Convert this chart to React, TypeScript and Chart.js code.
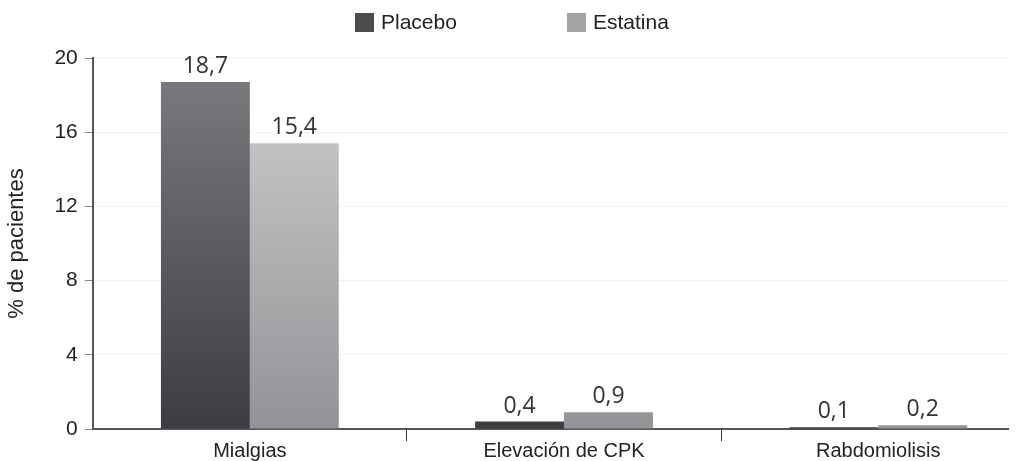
import React, { useEffect, useRef } from "react";
import { Chart, registerables } from "chart.js";

Chart.register(...registerables);

const categories = ["Mialgias", "Elevación de CPK", "Rabdomiolisis"];
const seriesNames = ["Placebo", "Estatina"];
const placebo = [18.7, 0.4, 0.1];
const estatina = [15.4, 0.9, 0.2];
const yMax = 20;
const yStep = 4;
const yTitle = "% de pacientes";

const FONT = "'Liberation Sans', Arial, Helvetica, sans-serif";
const LABEL_FONT = "'Open Sans', 'DejaVu Sans', sans-serif";

function gradient(chart: any, top: string, bottom: string, fallback: string) {
  const a = chart.chartArea;
  if (!a) return fallback;
  const g = chart.ctx.createLinearGradient(0, a.top, 0, a.bottom);
  g.addColorStop(0, top);
  g.addColorStop(1, bottom);
  return g;
}

const legendPlugin = {
  id: "customLegend",
  afterDraw(chart: any) {
    const ctx = chart.ctx;
    const items = [
      { text: seriesNames[0], color: "#4b4b4e", x: 355 },
      { text: seriesNames[1], color: "#a3a3a6", x: 567 },
    ];
    ctx.save();
    ctx.font = `21px ${FONT}`;
    ctx.textBaseline = "middle";
    ctx.textAlign = "left";
    items.forEach((it) => {
      ctx.fillStyle = it.color;
      ctx.fillRect(it.x, 13, 19, 19);
      ctx.fillStyle = "#222";
      ctx.fillText(it.text, it.x + 26, 23);
    });
    ctx.restore();
  },
};

const valueLabelPlugin = {
  id: "valueLabels",
  afterDatasetsDraw(chart: any) {
    const ctx = chart.ctx;
    ctx.save();
    ctx.font = `23px ${LABEL_FONT}`;
    ctx.fillStyle = "#333";
    ctx.textAlign = "center";
    ctx.textBaseline = "alphabetic";
    chart.data.datasets.forEach((ds: any, di: number) => {
      const meta = chart.getDatasetMeta(di);
      meta.data.forEach((bar: any, i: number) => {
        const v = ds.data[i];
        const txt = String(v).replace(".", ",");
        ctx.fillText(txt, bar.x, bar.y - 9);
      });
    });
    ctx.restore();
  },
};

export default function App() {
  const ref = useRef<HTMLCanvasElement | null>(null);
  useEffect(() => {
    if (!ref.current) return;
    const chart = new Chart(ref.current, {
      type: "bar",
      data: {
        labels: categories,
        datasets: [
          {
            label: seriesNames[0],
            data: placebo,
            backgroundColor: (c: any) => gradient(c.chart, "#7d7d81", "#3c3d40", "#555"),
            borderWidth: 0,
            categoryPercentage: 0.566,
            barPercentage: 1,
          },
          {
            label: seriesNames[1],
            data: estatina,
            backgroundColor: (c: any) => gradient(c.chart, "#d0d0d2", "#929396", "#aaa"),
            borderWidth: 0,
            categoryPercentage: 0.566,
            barPercentage: 1,
          },
        ],
      },
      options: {
        animation: false,
        responsive: true,
        maintainAspectRatio: false,
        layout: { padding: { top: 58, right: 19, left: 0, bottom: 0 } },
        plugins: {
          legend: { display: false },
          tooltip: { enabled: false },
        },
        scales: {
          x: {
            offset: true,
            afterBuildTicks: (s: any) => {
              s._valueRange = 2.913;
            },
            grid: {
              offset: true,
              drawOnChartArea: false,
              drawTicks: true,
              tickLength: 12,
              color: (c: any) => (c.index === 0 ? "rgba(0,0,0,0)" : "#333"),
              lineWidth: 1,
            },
            border: { display: true, color: "#555", width: 2 },
            ticks: {
              color: "#222",
              font: { family: FONT, size: 20, lineHeight: 1 },
              padding: 0,
              maxRotation: 0,
            },
          },
          y: {
            min: 0,
            max: yMax,
            ticks: {
              stepSize: yStep,
              color: "#222",
              font: { family: FONT, size: 21 },
              padding: 7,
            },
            grid: {
              color: "#f2f2f2",
              tickColor: "#888",
              tickLength: 8,
              lineWidth: 1,
            },
            border: { display: true, color: "#555", width: 2 },
            title: {
              display: true,
              text: yTitle,
              color: "#222",
              font: { family: FONT, size: 22 },
              padding: { top: 4, bottom: 17 },
            },
          },
        },
      },
      plugins: [legendPlugin, valueLabelPlugin],
    });
    return () => chart.destroy();
  }, []);
  return (
    <div style={{ position: "absolute", left: 0, top: 0, width: 1027, height: 461 }}>
      <canvas ref={ref} />
    </div>
  );
}
